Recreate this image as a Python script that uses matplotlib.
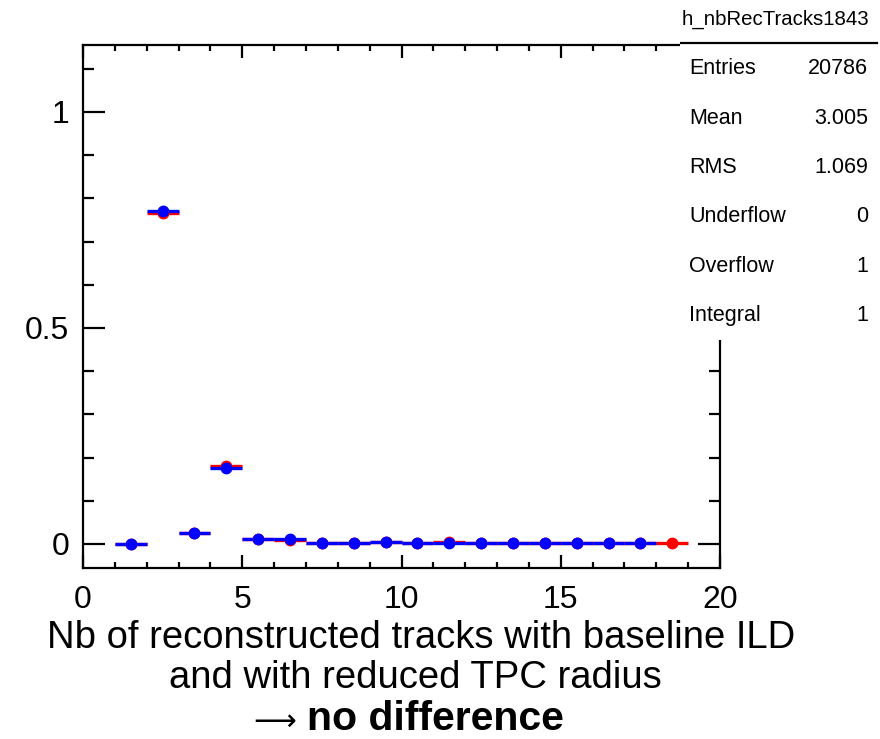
import matplotlib

matplotlib.use("Agg")
import matplotlib.pyplot as plt
import numpy as np
from matplotlib.ticker import MultipleLocator

plt.rcParams["font.family"] = ["Liberation Sans", "DejaVu Sans"]

# normalised track multiplicity, one entry per unit bin (centres 1.5 .. 18.5)
bin_centers = np.arange(1.5, 19.0, 1.0)
baseline = [0.0, 0.767, 0.026, 0.180, 0.012, 0.009, 0.003, 0.003, 0.004,
            0.0015, 0.004, 0.0015, 0.0015, 0.0015, 0.0015, 0.0015, 0.0015, 0.0015]
reduced_tpc = [0.0, 0.770, 0.025, 0.176, 0.012, 0.011, 0.003, 0.003, 0.004,
               0.0015, 0.0015, 0.0015, 0.0015, 0.0015, 0.0015, 0.0015, 0.0015, np.nan]

stat_labels = ["Entries", "Mean", "RMS", "Underflow", "Overflow", "Integral"]
stat_values = ["20786", "3.005", "1.069", "0", "1", "1"]
hist_name = "h_nbRecTracks1843"

caption = ["Nb of reconstructed tracks with baseline ILD",
           "and with reduced TPC radius"]
conclusion = "no difference"

W, H = 880, 739
fig = plt.figure(figsize=(W / 100, H / 100), dpi=100)
ax = fig.add_axes([83 / W, 1 - 568 / H, (720 - 83) / W, (568 - 45) / H])

for y, col in ((baseline, "red"), (reduced_tpc, "blue")):
    ax.errorbar(bin_centers, y, xerr=0.5, fmt="o", color=col, ms=7.5,
                elinewidth=2.4, capsize=0, clip_on=False)

ax.set_xlim(0, 20)
ax.set_ylim(-0.0556, 1.155)
ax.xaxis.set_major_locator(MultipleLocator(5))
ax.xaxis.set_minor_locator(MultipleLocator(1))
ax.yaxis.set_major_locator(MultipleLocator(0.5))
ax.yaxis.set_minor_locator(MultipleLocator(0.1))
ax.yaxis.set_major_formatter(plt.FuncFormatter(lambda v, p: f"{v:g}"))
ax.tick_params(which="both", direction="in", top=True, right=True,
               width=1.6, labelsize=23, colors="black")
ax.tick_params(axis="x", which="major", length=9.5, pad=12)
ax.tick_params(axis="x", which="minor", length=4.5)
ax.tick_params(axis="y", which="major", length=16, pad=10)
ax.tick_params(axis="y", which="minor", length=8)
for sp in ax.spines.values():
    sp.set_linewidth(1.6)

# statistics box, drawn over the top-right corner of the frame
sb = fig.add_axes([680 / W, 1 - 340 / H, 200 / W, 340 / H])
sb.set_xlim(680, 880)
sb.set_ylim(340, 0)
sb.axis("off")
sb.add_patch(plt.Rectangle((680, 0), 200, 340, facecolor="white", edgecolor="none"))
sb.plot([680, 877], [43, 43], color="black", lw=1.6)
sb.text(775, 19, hist_name, ha="center", va="center", fontsize=14.7)
for i, (lab, val) in enumerate(zip(stat_labels, stat_values)):
    yy = 69 + i * 49.3
    sb.text(689, yy, lab, ha="left", va="center", fontsize=15.5)
    sb.text(868, yy, val, ha="right", va="center", fontsize=15.5)

fig.text(421 / W, 1 - 638 / H, caption[0], ha="center", va="center", fontsize=27.5)
fig.text(415 / W, 1 - 678 / H, caption[1], ha="center", va="center", fontsize=27.5)
# long thin arrow in regular weight, conclusion in bold
fig.text(296 / W, 1 - 730 / H, "\u27f6", ha="right", va="baseline", fontsize=21.5,
         family=["DejaVu Sans"])
fig.text(307 / W, 1 - 730 / H, conclusion, ha="left", va="baseline",
         fontsize=29.5, fontweight="bold")

fig.savefig("out.png", dpi=100)
